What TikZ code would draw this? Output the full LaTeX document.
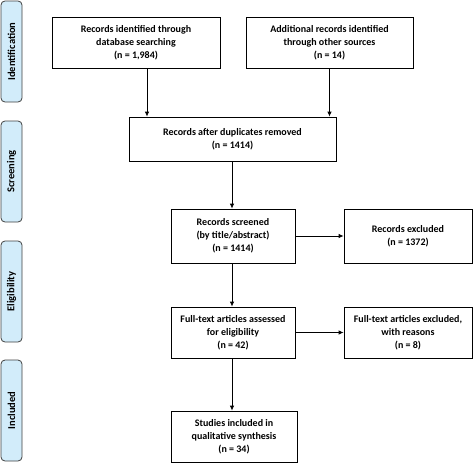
\documentclass[tikz,border=0pt]{standalone}
\usepackage{fontspec}
\setmainfont{Carlito}[BoldFont={Carlito Bold}]
\usetikzlibrary{arrows.meta}
\definecolor{sidefill}{HTML}{D2ECFA}
\tikzset{
  flowbox/.style={draw=black, line width=0.8pt, fill=white, align=center,
    font=\bfseries\fontsize{10}{12.8}\selectfont, inner sep=2pt},
  sidebar/.style={draw=black!75, line width=0.8pt, fill=sidefill, rounded corners=4pt,
    rotate=90, minimum width=101pt, minimum height=21pt, inner sep=0pt,
    font=\bfseries\fontsize{10.5}{12}\selectfont},
  flowarrow/.style={line width=0.8pt, -{Latex[length=5pt,width=4.5pt]}}
}
\begin{document}
\begin{tikzpicture}[x=1pt,y=-1pt]
\useasboundingbox (0,0) rectangle (473,463);
% side bars
\node[sidebar] (sid) at (11.5,51.5) {Identification};
\node[sidebar] (ssc) at (11.5,171.5) {Screening};
\node[sidebar] (sel) at (11.5,291.5) {Eligibility};
\node[sidebar] (sin) at (11.5,410.5) {Included};
% boxes
\node[flowbox, minimum width=168pt, minimum height=51pt] (A) at (136,42.5)
  {Records identified through\\database searching\\(n = 1,984)};
\node[flowbox, minimum width=167pt, minimum height=51pt] (B) at (329.5,42.5)
  {Additional records identified\\through other sources\\(n = 14)};
\node[flowbox, minimum width=207pt, minimum height=44pt] (C) at (232.5,139)
  {Records after duplicates removed\\(n = 1414)};
\node[flowbox, minimum width=124pt, minimum height=54pt] (D) at (233,236)
  {Records screened\\(by title/abstract)\\(n = 1414)};
\node[flowbox, minimum width=128pt, minimum height=54pt] (E) at (408,236)
  {Records excluded\\(n = 1372)};
\node[flowbox, minimum width=124pt, minimum height=51pt] (F) at (233,332.5)
  {Full-text articles assessed\\for eligibility\\(n = 42)};
\node[flowbox, minimum width=128pt, minimum height=51pt] (G) at (408,332.5)
  {Full-text articles excluded,\\with reasons\\(n = 8)};
\node[flowbox, minimum width=126pt, minimum height=51pt] (H) at (234,436.5)
  {Studies included in\\qualitative synthesis\\(n = 34)};
% arrows
\draw[flowarrow] (A.south -| 147,0) -- (147,0 |- C.north);
\draw[flowarrow] (B.south) -- (B.south |- C.north);
\draw[flowarrow] (C.south -| 232,0) -- (232,0 |- D.north);
\draw[flowarrow] (D.east) -- (E.west);
\draw[flowarrow] (D.south -| 232,0) -- (232,0 |- F.north);
\draw[flowarrow] (F.east) -- (G.west);
\draw[flowarrow] (F.south -| 232,0) -- (232,0 |- H.north);
\end{tikzpicture}
\end{document}
